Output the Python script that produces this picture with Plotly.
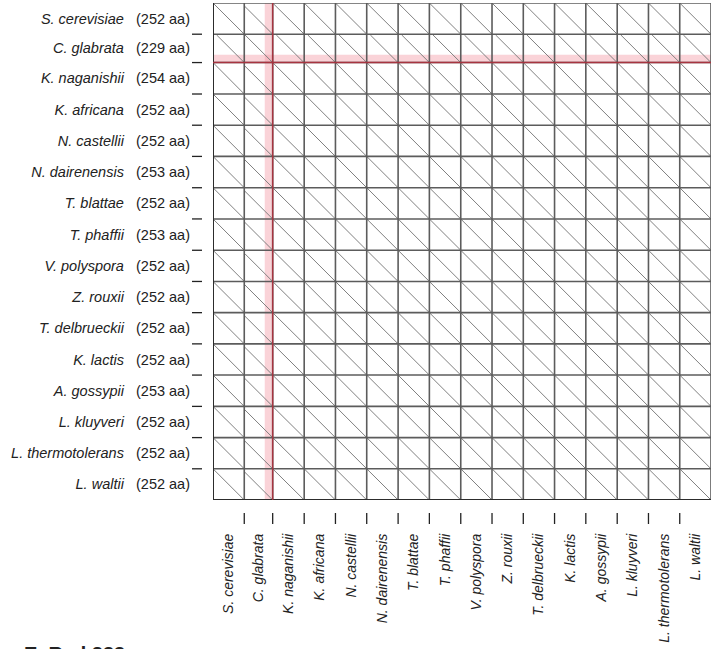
import numpy as np
import plotly.graph_objects as go

species = ["S. cerevisiae", "C. glabrata", "K. naganishii", "K. africana",
           "N. castellii", "N. dairenensis", "T. blattae", "T. phaffii",
           "V. polyspora", "Z. rouxii", "T. delbrueckii", "K. lactis",
           "A. gossypii", "L. kluyveri", "L. thermotolerans", "L. waltii"]
lengths = [252, 229, 254, 252, 252, 253, 252, 253, 252, 252, 252, 252, 253, 252, 252, 252]

# C. glabrata residue r aligns with residue r + shift_offset of the others
shifted_species = "C. glabrata"
shift_offset = 23
shift_start = 6
# highlighted region (residues) of C. glabrata
highlight_species = "C. glabrata"
highlight_range = (165, 229)
footer_text = "E. Rad 233"

FONT = "Liberation Sans, Arial, sans-serif"
n = len(species)
cum = np.concatenate([[0], np.cumsum(lengths)])
total = float(cum[-1])
centers = (cum[:-1] + cum[1:]) / 2.0

fig = go.Figure()

# diagonals
xs, ys = [], []
si = species.index(shifted_species)
for i in range(n):          # rows (y)
    for j in range(n):      # cols (x)
        x0, y0 = cum[j], cum[i]
        if i == j or (i != si and j != si):
            xs += [x0, x0 + lengths[j], None]
            ys += [y0, y0 + lengths[i], None]
        elif i == si:
            xs += [x0 + shift_offset + shift_start, x0 + shift_offset + lengths[i], None]
            ys += [y0 + shift_start, y0 + lengths[i], None]
        else:
            xs += [x0 + shift_start, x0 + lengths[j], None]
            ys += [y0 + shift_offset + shift_start, y0 + shift_offset + lengths[j], None]
fig.add_trace(go.Scatter(x=xs, y=ys, mode="lines", line=dict(color="#808080", width=1),
                         hoverinfo="skip", showlegend=False))

shapes = []
hi = species.index(highlight_species)
# highlight bands
band = "rgba(243,150,162,0.42)"
shapes.append(dict(type="rect", xref="x", yref="y", layer="below",
                   x0=cum[hi] + highlight_range[0], x1=cum[hi] + highlight_range[1],
                   y0=0, y1=total, fillcolor=band, line_width=0))
shapes.append(dict(type="rect", xref="x", yref="y", layer="below",
                   y0=cum[hi] + highlight_range[0], y1=cum[hi] + highlight_range[1],
                   x0=0, x1=total, fillcolor=band, line_width=0))

grid_col = "#5c5c5c"
for k in range(1, n):
    shapes.append(dict(type="line", xref="x", yref="y", x0=cum[k], x1=cum[k], y0=0, y1=total,
                       line=dict(color=grid_col, width=1.6)))
    shapes.append(dict(type="line", xref="x", yref="y", y0=cum[k], y1=cum[k], x0=0, x1=total,
                       line=dict(color=grid_col, width=1.6)))
# borders
shapes.append(dict(type="line", xref="x", yref="y", x0=0, x1=total, y0=0, y1=0,
                   line=dict(color=grid_col, width=1.6)))
shapes.append(dict(type="line", xref="x", yref="y", x0=total, x1=total, y0=0, y1=total,
                   line=dict(color=grid_col, width=1.6)))
shapes.append(dict(type="line", xref="x", yref="y", x0=0, x1=0, y0=0, y1=total,
                   line=dict(color="#2c2c2c", width=2)))
shapes.append(dict(type="line", xref="x", yref="y", x0=0, x1=total, y0=total, y1=total,
                   line=dict(color="#2c2c2c", width=2)))
# red boundary lines
red = "#a83440"
shapes.append(dict(type="line", xref="x", yref="y", x0=cum[hi] + highlight_range[1],
                   x1=cum[hi] + highlight_range[1], y0=0, y1=total, line=dict(color=red, width=1.4)))
shapes.append(dict(type="line", xref="x", yref="y", y0=cum[hi] + highlight_range[1],
                   y1=cum[hi] + highlight_range[1], x0=0, x1=total, line=dict(color=red, width=1.4)))

# detached ticks at internal boundaries
for k in range(1, n):
    shapes.append(dict(type="line", xref="x domain", yref="y", x0=-0.0422, x1=-0.0221,
                       y0=cum[k], y1=cum[k], line=dict(color="#222222", width=1.3)))
    shapes.append(dict(type="line", xref="x", yref="y domain", x0=cum[k], x1=cum[k],
                       y0=-0.0262, y1=-0.0483, line=dict(color="#222222", width=1.3)))

ylabels = [f"<i>{s}</i>&nbsp;&nbsp;&nbsp;({L} aa)" for s, L in zip(species, lengths)]
xlabels = [f"<i>{s}</i>" for s in species]

fig.update_layout(
    width=727, height=649,
    margin=dict(l=213, r=16, t=3, b=149),
    paper_bgcolor="white", plot_bgcolor="white",
    shapes=shapes,
    font=dict(family=FONT, size=14, color="#222222"),
    xaxis=dict(range=[0, total], showgrid=False, zeroline=False, showline=False,
               tickmode="array", tickvals=centers, ticktext=xlabels, tickangle=-90,
               ticks="", ticklabelstandoff=30, tickfont=dict(size=14, family=FONT)),
    yaxis=dict(range=[total, 0], showgrid=False, zeroline=False, showline=False,
               tickmode="array", tickvals=centers, ticktext=ylabels,
               ticks="", ticklabelstandoff=22, tickfont=dict(size=14.5, family=FONT)),
    annotations=[dict(text=f"<b>{footer_text}</b>", xref="paper", yref="paper",
                      x=-0.3835, y=-0.2837, xanchor="left", yanchor="top", showarrow=False,
                      font=dict(size=20, family=FONT, color="#222222"))],
)

fig.write_html("out.html", config={"displayModeBar": False},
               post_script="document.body.style.margin='0px';")
